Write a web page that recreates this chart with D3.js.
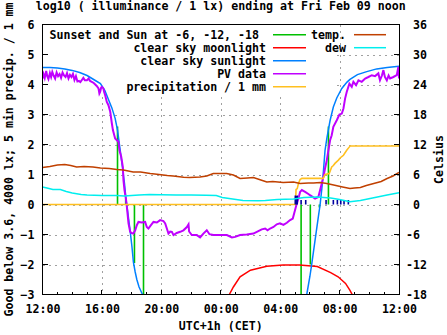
<!DOCTYPE html>
<html><head><meta charset="utf-8">
<script src="https://cdn.jsdelivr.net/npm/d3@7"></script>
<style>
html,body{margin:0;padding:0;background:#fff;}
svg{display:block;}
text{font-family:"DejaVu Sans Mono",monospace;font-weight:bold;font-size:11.6px;fill:#000;}
</style></head><body>
<svg id="c" width="447" height="335"></svg>
<script>
// ---------- texts ----------
const titleText = "log10 ( illuminance / 1 lx) ending at Fri Feb 09 noon";
const xLabel = "UTC+1h (CET)";
const yLabel = "Good below 3.6, 4000 lx; 5 min precip. / 1 mm";
const y2Label = "Celsius";

// ---------- ticks ----------
const xTickHours = [0, 4, 8, 12, 16, 20, 24];          // hours after 12:00
const xTickLabels = ["12:00", "16:00", "20:00", "00:00", "04:00", "08:00", "12:00"];
const xMinorHours = d3.range(0, 25, 1);
const yTicks = [-3, -2, -1, 0, 1, 2, 3, 4, 5, 6];
const y2Ticks = [-18, -12, -6, 0, 6, 12, 18, 24, 30, 36];
const y2TickLabels = ["-18", "-12", "-6", "\u00a00", "\u00a06", "\u00a012", "\u00a018", "\u00a024", "\u00a030", "\u00a036"];

// ---------- legend ----------
const legendLeftLabels = ["Sunset and Sun at -6, -12, -18\u00a0", "clear sky moonlight", "clear sky sunlight", "PV data", "precipitation / 1 mm"];
const legendLeftColors = ["#00c000", "#ff0000", "#0080ff", "#c000ff", "#ffc020"];
const legendRightLabels = ["temp.", "dew"];
const legendRightColors = ["#c04000", "#00eeee"];

// ---------- data (hours after 12:00, log10 lx) ----------
const sunEvents = [[5.05, 2.6], [5.6, 0.2], [6.19, -1.95], [6.8, -3.5], [17.41, -3.5], [18.03, -2.0], [18.64, -0.1], [19.25, 2.6]];

const moonlight = [[12.4, -3.3], [12.58, -3.0], [12.85, -2.75], [13.3, -2.41], [14.0, -2.19], [15.1, -2.06], [16.2, -2.02],
  [17.3, -2.02], [18.5, -2.07], [19.4, -2.27], [19.9, -2.41], [20.4, -2.63], [20.7, -2.86], [20.9, -3.05], [21.0, -3.3]];

const sunlight = [[0, 4.57], [0.5, 4.57], [1.0, 4.55], [1.5, 4.52], [2.0, 4.47], [2.5, 4.40], [3.0, 4.30], [3.5, 4.15], [3.9, 4.03],
  [4.2, 3.80], [4.44, 3.50], [4.67, 3.22], [4.89, 2.87], [5.05, 2.48], [5.23, 1.81], [5.38, 1.25], [5.52, 0.70], [5.63, 0.14],
  [5.72, -0.18], [5.9, -0.88], [6.02, -1.40], [6.12, -1.92], [6.24, -2.25], [6.35, -2.50], [6.5, -2.75], [6.73, -3.0], [6.9, -3.3],
  [17.6, -3.4], [17.79, -3.0], [18.0, -2.4], [18.13, -1.97], [18.35, -1.19], [18.57, -0.41], [18.69, 0.0], [18.8, 0.5], [18.91, 1.1],
  [19.02, 1.8], [19.14, 2.2], [19.25, 2.5], [19.36, 2.8], [19.58, 3.25], [19.81, 3.55], [20.15, 3.87], [20.5, 4.08], [20.7, 4.17],
  [21.2, 4.33], [21.83, 4.43], [22.5, 4.52], [23.2, 4.57], [24, 4.61]];

const pvData = [[0, 4.2], [0.07, 4.35], [0.15, 4.22], [0.25, 4.45], [0.32, 4.28], [0.4, 4.18], [0.5, 4.38], [0.58, 4.25], [0.66, 4.42],
  [0.75, 4.3], [0.85, 4.2], [0.95, 4.4], [1.05, 4.28], [1.15, 4.35], [1.25, 4.22], [1.35, 4.4], [1.45, 4.3], [1.55, 4.25], [1.65, 4.38],
  [1.75, 4.2], [1.85, 4.32], [1.95, 4.25], [2.05, 4.35], [2.15, 4.15], [2.25, 4.28], [2.35, 4.1], [2.45, 4.12], [2.55, 4.08], [2.65, 4.15],
  [2.75, 4.22], [2.85, 4.14], [2.99, 4.14], [3.1, 4.2], [3.2, 4.12], [3.32, 4.09], [3.45, 4.05], [3.55, 4.0], [3.65, 3.95], [3.77, 3.87],
  [3.83, 3.7], [3.88, 3.75], [3.95, 3.9], [4.0, 3.92], [4.1, 3.87], [4.15, 3.75], [4.22, 3.64], [4.33, 3.42], [4.44, 3.31], [4.56, 3.09],
  [4.67, 2.7], [4.74, 2.48], [4.89, 2.2], [5.11, 2.09], [5.18, 1.81], [5.3, 1.59], [5.41, 1.25], [5.45, 0.81], [5.52, 0.48], [5.63, 0.14],
  [5.68, -0.08], [5.79, -0.63], [5.9, -0.91], [6.0, -0.95], [6.12, -0.97], [6.24, -0.86], [6.35, -0.69], [6.46, -0.58], [6.69, -0.6],
  [6.91, -0.58], [7.02, -0.75], [7.13, -0.8], [7.25, -0.72], [7.47, -0.58], [7.7, -0.6], [7.92, -0.52], [8.14, -0.55], [8.26, -0.63],
  [8.37, -0.8], [8.48, -0.97], [8.6, -0.9], [8.71, -0.91], [8.82, -1.02], [9.04, -0.95], [9.27, -0.91], [9.49, -0.86], [9.72, -0.75],
  [9.83, -0.66], [9.87, -0.9], [10.05, -1.02], [10.39, -1.02], [10.61, -1.1], [10.83, -0.97], [11.06, -0.86], [11.24, -0.99],
  [11.51, -1.02], [11.96, -1.02], [12.41, -1.02], [12.75, -1.1], [12.97, -1.08], [13.3, -1.02], [13.75, -1.0], [14.2, -0.97],
  [14.43, -0.91], [14.76, -0.83], [14.99, -0.8], [15.15, -0.86], [15.32, -0.8], [15.55, -0.75], [15.77, -0.66], [15.99, -0.63],
  [16.22, -0.68], [16.45, -0.61], [16.67, -0.52], [16.85, -0.47], [16.94, -0.3], [17.03, -0.13], [17.12, 0.03], [17.23, 0.2],
  [17.34, 0.42], [17.46, 0.48], [17.68, 0.42], [17.9, 0.35], [18.01, 0.31], [18.35, 0.2], [18.57, 0.25], [18.69, 0.48], [18.8, 0.7],
  [18.91, 0.92], [19.02, 1.2], [19.14, 1.48], [19.25, 1.81], [19.36, 2.14], [19.47, 2.31], [19.58, 2.59], [19.81, 2.81], [19.99, 3.0],
  [20.15, 3.03], [20.26, 3.2], [20.37, 3.53], [20.48, 3.75], [20.66, 4.03], [20.82, 3.92], [20.93, 4.09], [21.11, 3.98], [21.27, 4.14],
  [21.49, 4.09], [21.72, 4.2], [21.94, 4.25], [22.17, 4.31], [22.39, 4.28], [22.61, 4.37], [22.72, 4.14], [22.85, 4.3], [22.95, 4.48],
  [23.05, 4.25], [23.18, 4.14], [23.3, 4.3], [23.4, 4.2], [23.62, 4.25], [23.85, 4.31], [23.96, 4.59], [24.0, 4.2]];

const precipitation = [[0, 0], [17.03, 0], [17.07, 0.5], [17.15, 0.53], [17.23, 0.7], [17.34, 0.83], [17.46, 0.87], [18.9, 0.87],
  [19.02, 1.0], [19.3, 1.03], [19.47, 1.25], [19.58, 1.3], [19.69, 1.37], [19.92, 1.48], [20.04, 1.55], [20.15, 1.6], [20.26, 1.64],
  [20.48, 1.81], [20.66, 1.92], [20.7, 1.95], [24, 1.95]];

const precip5min = [[17.02, 0.3], [17.09, 0.28], [17.15, 0.3], [17.41, 0.15], [17.72, 0.15], [19.09, 0.15], [19.58, 0.15],
  [19.85, 0.15], [20.08, 0.15], [20.3, 0.15], [20.59, 0.15]];

// Celsius (right axis)
const temperature = [[0, 7.4], [0.5, 7.6], [1.0, 7.9], [1.5, 8.0], [1.9, 7.8], [2.3, 7.5], [2.8, 7.6], [3.4, 7.5], [3.9, 7.3],
  [4.5, 7.2], [5.0, 7.0], [5.45, 6.9], [6.1, 6.5], [6.6, 6.5], [7.25, 6.2], [7.7, 6.05], [8.4, 5.8], [8.8, 5.7], [9.5, 5.45],
  [9.9, 5.4], [10.6, 5.5], [11.06, 5.7], [11.5, 6.2], [12.4, 6.2], [12.85, 5.9], [13.3, 5.2], [13.8, 5.3], [14.2, 5.4],
  [14.7, 4.9], [15.1, 4.5], [15.5, 4.6], [16.2, 4.4], [16.9, 4.5], [17.34, 4.2], [17.9, 4.3], [18.25, 4.3], [18.7, 4.4],
  [19.14, 4.2], [19.6, 3.9], [20.2, 3.5], [20.7, 3.2], [21.0, 3.3], [21.4, 3.4], [21.8, 3.8], [22.3, 4.2], [22.8, 4.6],
  [23.2, 5.2], [23.6, 5.7], [24, 6.4]];

const dewPoint = [[0, 3.5], [0.3, 3.3], [0.7, 3.0], [1.2, 3.0], [1.6, 2.6], [2.0, 2.3], [2.6, 2.0], [3.0, 1.9], [4.0, 1.8],
  [5.0, 1.8], [5.5, 1.7], [6.0, 1.8], [6.5, 1.9], [7.2, 2.0], [8.0, 1.95], [9.0, 1.9], [10.0, 1.9], [11.0, 1.85], [11.7, 1.8],
  [12.1, 1.4], [12.8, 1.1], [13.5, 0.8], [14.5, 0.75], [15.0, 0.8], [15.8, 1.0], [16.9, 1.1], [17.6, 1.4], [18.5, 1.5],
  [19.4, 1.3], [20.0, 1.0], [20.7, 0.55], [21.4, 0.8], [22.3, 1.35], [23.2, 1.9], [24, 2.35]];

// ---------- layout ----------
const L = 42.5, R = 399, T = 24.5, B = 294.5;
const svg = d3.select("#c");
const x = d3.scaleLinear().domain([0, 24]).range([L, R]);
const y = d3.scaleLinear().domain([-3, 6]).range([B, T]);
const y2 = d3.scaleLinear().domain([-18, 36]).range([B, T]);

// grid
const grid = svg.append("g").attr("stroke", "#a0a0a0").attr("stroke-width", 1)
  .attr("stroke-dasharray", "2,4").attr("shape-rendering", "crispEdges");
grid.selectAll("line.h").data(yTicks.filter(v => v > -3 && v < 6)).join("line")
  .attr("x1", L).attr("x2", R).attr("y1", d => Math.round(y(d)) + 0.5).attr("y2", d => Math.round(y(d)) + 0.5);
grid.selectAll("line.v").data(xTickHours.filter(h => h > 0 && h < 24)).join("line")
  .attr("y1", T).attr("y2", B).attr("x1", d => Math.round(x(d)) + 0.5).attr("x2", d => Math.round(x(d)) + 0.5);

// opaque key box
svg.append("rect").attr("x", L + 0.5).attr("y", T + 0.5).attr("width", 333 - L).attr("height", 93 - T).attr("fill", "#fff");

// plot area
svg.append("clipPath").attr("id", "clip").append("rect").attr("x", L).attr("y", T).attr("width", R - L).attr("height", B - T);
const plot = svg.append("g").attr("clip-path", "url(#clip)").attr("fill", "none");

const line = d3.line().x(d => x(d[0])).y(d => y(d[1]));
const line2 = d3.line().x(d => x(d[0])).y(d => y2(d[1]));

plot.selectAll("line.sun").data(sunEvents).join("line")
  .attr("x1", d => x(d[0])).attr("x2", d => x(d[0])).attr("y1", y(0)).attr("y2", d => y(d[1]))
  .attr("stroke", legendLeftColors[0]).attr("stroke-width", 1.6);
plot.append("path").attr("d", line(moonlight)).attr("stroke", legendLeftColors[1]).attr("stroke-width", 1.5);
plot.append("path").attr("d", line(sunlight)).attr("stroke", legendLeftColors[2]).attr("stroke-width", 1.5);
plot.append("path").attr("d", line(pvData)).attr("stroke", legendLeftColors[3]).attr("stroke-width", 2);
plot.append("path").attr("d", line(precipitation)).attr("stroke", legendLeftColors[4]).attr("stroke-width", 1.6);
plot.selectAll("line.p5").data(precip5min).join("line")
  .attr("x1", d => x(d[0])).attr("x2", d => x(d[0])).attr("y1", y(0)).attr("y2", d => y(d[1]))
  .attr("stroke", "#0000a0").attr("stroke-width", 1.6);
plot.append("path").attr("d", line2(temperature)).attr("stroke", legendRightColors[0]).attr("stroke-width", 1.5);
plot.append("path").attr("d", line2(dewPoint)).attr("stroke", legendRightColors[1]).attr("stroke-width", 1.5);

// border
svg.append("rect").attr("x", L).attr("y", T).attr("width", R - L).attr("height", B - T)
  .attr("fill", "none").attr("stroke", "#000").attr("stroke-width", 1).attr("shape-rendering", "crispEdges");

// ticks
const ticks = svg.append("g").attr("stroke", "#000").attr("stroke-width", 1).attr("shape-rendering", "crispEdges");
ticks.selectAll("line.yl").data(yTicks).join("line")
  .attr("x1", L).attr("x2", L + 5).attr("y1", d => y(d)).attr("y2", d => y(d));
ticks.selectAll("line.yr").data(y2Ticks).join("line")
  .attr("x1", R - 5).attr("x2", R).attr("y1", d => y2(d)).attr("y2", d => y2(d));
ticks.selectAll("line.xm").data(xMinorHours).join("line")
  .attr("x1", d => x(d)).attr("x2", d => x(d)).attr("y1", B).attr("y2", d => B - (xTickHours.includes(d) ? 5 : 3));

// axes labels via d3 axes
function strip(g) { g.select(".domain").remove(); g.selectAll(".tick line").remove(); g.attr("font-family", null).attr("font-size", null); }
svg.append("g").attr("transform", `translate(0,${B})`)
  .call(d3.axisBottom(x).tickValues(xTickHours).tickFormat((d, i) => xTickLabels[i]).tickSize(0).tickPadding(10.5)).call(strip);
svg.append("g").attr("transform", `translate(${L},0)`)
  .call(d3.axisLeft(y).tickValues(yTicks).tickFormat(d3.format("d")).tickSize(0).tickPadding(8)).call(strip);
svg.append("g").attr("transform", `translate(${R},0)`)
  .call(d3.axisRight(y2).tickValues(y2Ticks).tickFormat((d, i) => y2TickLabels[i]).tickSize(0).tickPadding(7)).call(strip);

// legend
const legL = svg.append("g");
legendLeftLabels.forEach((t, i) => {
  const yy = 34.7 + 13 * i;
  legL.append("text").attr("x", 266).attr("y", yy + 4.2).attr("text-anchor", "end").text(t);
  legL.append("line").attr("x1", 273).attr("x2", 306).attr("y1", yy).attr("y2", yy)
    .attr("stroke", legendLeftColors[i]).attr("stroke-width", 1.5);
});
legendRightLabels.forEach((t, i) => {
  const yy = 34.7 + 13 * i;
  legL.append("text").attr("x", 346).attr("y", yy + 4.2).attr("text-anchor", "end").text(t);
  legL.append("line").attr("x1", 354).attr("x2", 386).attr("y1", yy).attr("y2", yy)
    .attr("stroke", legendRightColors[i]).attr("stroke-width", 1.5);
});

// titles
svg.append("text").attr("x", (L + R) / 2).attr("y", 10).attr("text-anchor", "middle").text(titleText);
svg.append("text").attr("x", (L + R) / 2).attr("y", 330).attr("text-anchor", "middle").text(xLabel);
svg.append("text").attr("transform", `translate(13,${(T + B) / 2}) rotate(-90)`).attr("text-anchor", "middle").text(yLabel);
svg.append("text").attr("transform", `translate(443,${(T + B) / 2}) rotate(-90)`).attr("text-anchor", "middle").text(y2Label);
</script>
</body></html>
